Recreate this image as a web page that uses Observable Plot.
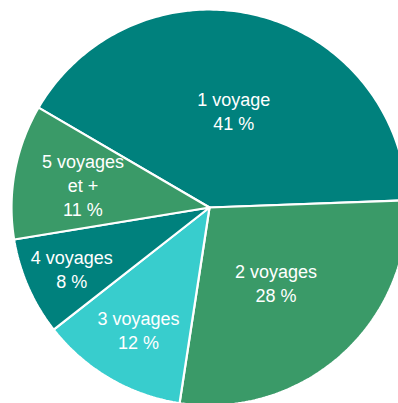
<!DOCTYPE html>
<html>
<head>
<meta charset="utf-8">
<script src="https://cdn.jsdelivr.net/npm/d3@7"></script>
<script src="https://cdn.jsdelivr.net/npm/@observablehq/plot@0.6"></script>
<style>
  html, body { margin: 0; padding: 0; background: #ffffff; }
  #chart svg { display: block; }
</style>
</head>
<body>
<div id="chart"></div>
<script>
// Data
const categories = ["1 voyage", "2 voyages", "3 voyages", "4 voyages", "5 voyages et +"];
const labelNames = ["1 voyage", "2 voyages", "3 voyages", "4 voyages", "5 voyages\net +"];
const shares = [41, 28, 12, 8, 11];
const colors = ["#00817d", "#3a9a68", "#38cdcd", "#00817d", "#3a9a68"];
const startAngleDeg = -59.7;

// Layout
const W = 398, H = 403;
const cx = 209, cy = 207, R = 198;

// Build slice polygons in unit coordinates (y up), angle clockwise from north
const total = d3.sum(shares);
const polys = [];
const labels = [];
let a0 = startAngleDeg;
categories.forEach((cat, i) => {
  const span = shares[i] / total * 360;
  const a1 = a0 + span;
  polys.push({cat, x: 0, y: 0});
  const n = Math.max(2, Math.ceil(span));
  for (let k = 0; k <= n; k++) {
    const a = (a0 + (a1 - a0) * k / n) * Math.PI / 180;
    polys.push({cat, x: Math.sin(a), y: Math.cos(a)});
  }
  polys.push({cat, x: 0, y: 0});
  const mid = ((a0 + a1) / 2) * Math.PI / 180;
  const nLines = labelNames[i].split("\n").length + 1;
  const rl = shares[i] >= 20 ? 0.505 : nLines > 2 ? 0.65 : shares[i] < 10 ? 0.76 : 0.71;
  labels.push({cat, text: labelNames[i] + "\n" + shares[i] + " %", x: rl * Math.sin(mid), y: rl * Math.cos(mid)});
  a0 = a1;
});

const chart = Plot.plot({
  width: W,
  height: H,
  margin: 0,
  style: {background: "#ffffff"},
  x: {domain: [(0 - cx) / R, (W - cx) / R], axis: null},
  y: {domain: [(cy - H) / R, cy / R], axis: null},
  color: {domain: categories, range: colors},
  marks: [
    Plot.line(polys, {x: "x", y: "y", z: "cat", fill: "cat", stroke: "#ffffff", strokeWidth: 2.2, strokeLinejoin: "miter", curve: "linear"}),
    Plot.text(labels, {x: "x", y: "y", text: "text", fill: "#ffffff", fontSize: 18, lineHeight: 1.33, fontFamily: "Liberation Sans, Arial, sans-serif"})
  ]
});
document.getElementById("chart").appendChild(chart);
</script>
</body>
</html>
